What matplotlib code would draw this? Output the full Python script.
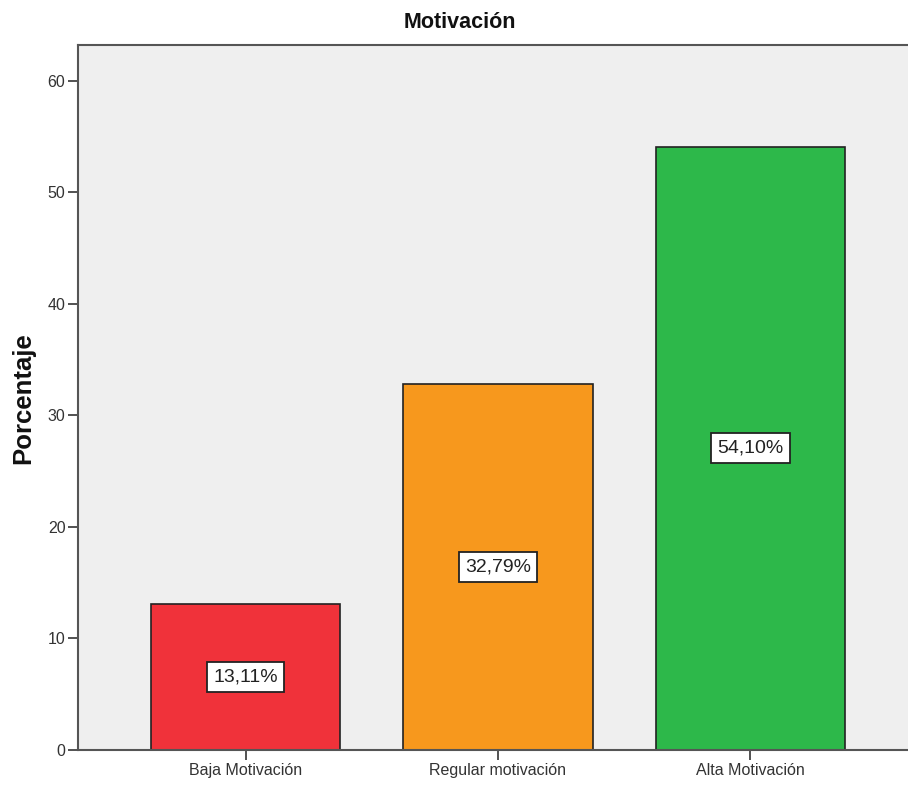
import matplotlib.pyplot as plt

# Porcentaje por nivel de motivación
categorias = ['Baja Motivación', 'Regular motivación', 'Alta Motivación']
porcentajes = [13.11, 32.79, 54.10]
colores = ['#f0323a', '#f7981d', '#2db84a']

plt.rcParams['font.family'] = ['Liberation Sans', 'DejaVu Sans']

fig = plt.figure(figsize=(9.08, 7.89), dpi=100)
ax = fig.add_axes([0.0859, 0.0494, 0.925, 0.8935])
ax.set_facecolor('#efefef')

x = range(len(categorias))
ax.bar(x, porcentajes, width=0.75, color=colores, edgecolor='#222222', linewidth=1.2)

for i, v in zip(x, porcentajes):
    ax.text(i, v / 2, f"{v:.2f}%".replace('.', ','), ha='center', va='center',
            fontsize=14, color='#222222',
            bbox=dict(boxstyle='square,pad=0.33', facecolor='white',
                      edgecolor='#222222', linewidth=1.3))

ax.set_xlim(-0.665, 2.665)
ax.set_ylim(0, 63.2)
ax.set_yticks([0, 10, 20, 30, 40, 50, 60])
ax.set_xticks(list(x))
ax.set_xticklabels(categorias)
ax.tick_params(axis='both', direction='out', length=7, width=1.2,
               colors='#333333', labelsize=11.5, labelcolor='#333333', pad=2)

for s in ax.spines.values():
    s.set_color('#555555')
    s.set_linewidth(1.5)

fig.text(0.507, 0.972, 'Motivación', ha='center', va='center',
         fontsize=15.5, fontweight='bold', color='#111111')
fig.text(0.026, 0.496, 'Porcentaje', ha='center', va='center', rotation=90,
         fontsize=18.5, fontweight='bold', color='#111111')

fig.savefig('out.png', dpi=100)
